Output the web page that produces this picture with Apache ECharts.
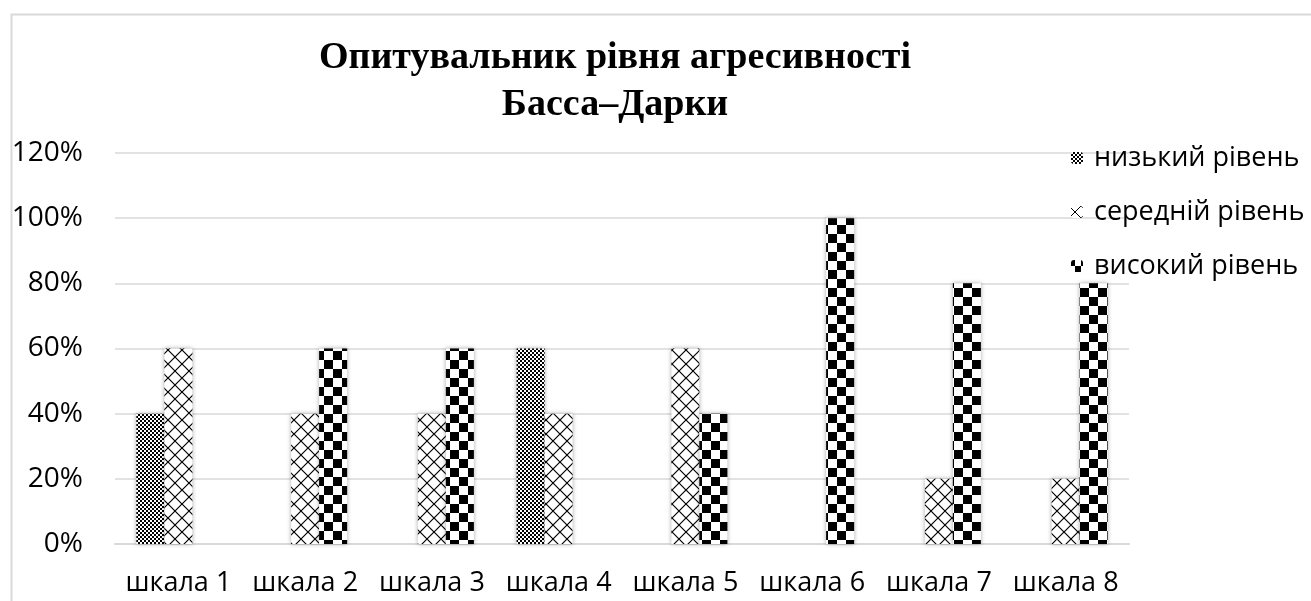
<!DOCTYPE html>
<html>
<head>
<meta charset="utf-8">
<script src="https://cdn.jsdelivr.net/npm/echarts@6/dist/echarts.min.js"></script>
<style>
html,body{margin:0;padding:0;background:#fff;}
#c{width:1311px;height:601px;}
</style>
</head>
<body>
<div id="c"></div>
<script>
const categories = ['шкала 1','шкала 2','шкала 3','шкала 4','шкала 5','шкала 6','шкала 7','шкала 8'];
const seriesNames = ['низький рівень','середній рівень','високий рівень'];
const lowLevel    = [40, 0, 0, 60, 0, 0, 0, 0];
const midLevel    = [60, 40, 40, 40, 60, 0, 20, 20];
const highLevel   = [0, 60, 60, 0, 40, 100, 80, 80];
const yTicks = [0, 20, 40, 60, 80, 100, 120];
const titleText = 'Опитувальник рівня агресивності\nБасса–Дарки';

function makeCanvas(w, h, draw) {
  const cv = document.createElement('canvas');
  cv.width = w; cv.height = h;
  const ctx = cv.getContext('2d');
  ctx.fillStyle = '#fff'; ctx.fillRect(0, 0, w, h);
  draw(ctx);
  return cv;
}
const smallChecker = makeCanvas(4, 4, ctx => {
  ctx.fillStyle = '#000';
  ctx.fillRect(0, 0, 2, 2); ctx.fillRect(2, 2, 2, 2);
});
const diamond = makeCanvas(14, 14, ctx => {
  ctx.strokeStyle = '#000'; ctx.lineWidth = 1.2;
  ctx.beginPath();
  ctx.moveTo(-1, -1); ctx.lineTo(15, 15);
  ctx.moveTo(15, -1); ctx.lineTo(-1, 15);
  ctx.stroke();
});
const bigChecker = makeCanvas(18, 18, ctx => {
  ctx.fillStyle = '#000';
  ctx.fillRect(0, 0, 9, 9); ctx.fillRect(9, 9, 9, 9);
});
// legend icon patterns (scaled-down versions)
const iconLow = makeCanvas(4, 4, ctx => {
  ctx.fillStyle = '#000';
  ctx.fillRect(0, 0, 2, 2); ctx.fillRect(2, 2, 2, 2);
});
const iconMid = makeCanvas(12, 12, ctx => {
  ctx.strokeStyle = '#000'; ctx.lineWidth = 1;
  ctx.beginPath();
  ctx.moveTo(0, 0); ctx.lineTo(12, 12);
  ctx.moveTo(12, 0); ctx.lineTo(0, 12);
  ctx.stroke();
});
const iconHigh = makeCanvas(12, 12, ctx => {
  ctx.fillStyle = '#000';
  ctx.fillRect(0, 0, 6, 6); ctx.fillRect(6, 6, 6, 6);
});
const patterns = [smallChecker, diamond, bigChecker];
const iconPatterns = [iconLow, iconMid, iconHigh];
const dataSets = [lowLevel, midLevel, highLevel];

const font = '"Open Sans", sans-serif';
const chart = echarts.init(document.getElementById('c'), null, {renderer: 'canvas'});

chart.setOption({
  animation: false,
  backgroundColor: '#fff',
  graphic: [{
    type: 'rect', left: 9, top: 12, silent: true,
    shape: {width: 1400, height: 700},
    style: {fill: 'none', stroke: '#d9d9d9', lineWidth: 2}
  }],
  title: {
    text: titleText,
    left: 610, top: 30, textAlign: 'center',
    textStyle: {fontFamily: '"Liberation Serif", serif', fontWeight: 'bold', fontSize: 38, lineHeight: 47, color: '#000'}
  },
  legend: {
    orient: 'vertical',
    left: 1066, top: 139,
    itemWidth: 12, itemHeight: 12, itemGap: 26,
    textStyle: {fontFamily: font, fontSize: 27, color: '#000', lineHeight: 28, padding: [0,0,0,6]},
    data: seriesNames.map((n, i) => ({
      name: n,
      itemStyle: {color: {image: iconPatterns[i], repeat: 'repeat', x: 1066, y: 0}}
    }))
  },
  grid: {left: 115, right: 1311 - 1129, top: 153, bottom: 601 - 544, containLabel: false},
  xAxis: {
    type: 'category',
    data: categories,
    axisTick: {show: false},
    axisLine: {lineStyle: {color: '#d9d9d9', width: 2}},
    axisLabel: {fontFamily: font, fontSize: 27, color: '#000', margin: 26, interval: 0}
  },
  yAxis: {
    type: 'value',
    min: yTicks[0], max: yTicks[yTicks.length - 1], interval: 20,
    axisLine: {show: false},
    axisTick: {show: false},
    splitLine: {lineStyle: {color: '#d9d9d9', width: 1.5}},
    axisLabel: {fontFamily: font, fontSize: 28, color: '#000', margin: 32, formatter: v => v + '%'}
  },
  series: seriesNames.map((name, i) => ({
    name: name,
    type: 'bar',
    data: dataSets[i],
    barWidth: 28,
    barGap: '0%',
    itemStyle: {
      color: {image: patterns[i], repeat: 'repeat'},
      shadowBlur: 4, shadowColor: 'rgba(0,0,0,0.35)'
    }
  }))
});
</script>
</body>
</html>
